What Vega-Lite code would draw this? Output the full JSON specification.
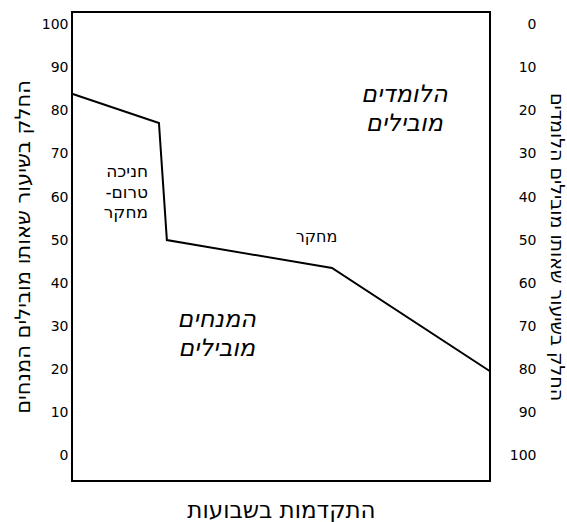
{
  "$schema": "https://vega.github.io/schema/vega-lite/v6.json",
  "autosize": {"type": "none"},
  "width": 418,
  "height": 469,
  "padding": {"left": 72, "top": 12, "right": 77, "bottom": 41},
  "config": {
    "font": "DejaVu Sans",
    "view": {"stroke": "black", "strokeWidth": 2},
    "axis": {"grid": false, "ticks": false, "domain": false, "labelColor": "black", "titleColor": "black", "titleFontWeight": "normal"}
  },
  "datasets": {
    "line": [
      {"week": 0, "share": 84},
      {"week": 20.8, "share": 77.2},
      {"week": 22.7, "share": 50},
      {"week": 62.2, "share": 43.5},
      {"week": 100, "share": 19.5}
    ],
    "notes": [
      {"week": 18.2, "share": 65.8, "label": "חניכה", "kind": "small"},
      {"week": 18.2, "share": 60.9, "label": "-טרום", "kind": "small"},
      {"week": 18.2, "share": 56.3, "label": "מחקר", "kind": "small"},
      {"week": 58.5, "share": 50.7, "label": "מחקר", "kind": "mid"}
    ],
    "big": [
      {"week": 79.5, "share": 83.7, "label": "הלומדים"},
      {"week": 79.5, "share": 76.9, "label": "מובילים"},
      {"week": 34.6, "share": 31.4, "label": "המנחים"},
      {"week": 34.6, "share": 24.6, "label": "מובילים"}
    ]
  },
  "layer": [
    {
      "layer": [
        {
          "data": {"name": "line"},
          "mark": {"type": "line", "color": "black", "strokeWidth": 2},
          "encoding": {
            "x": {"field": "week", "type": "quantitative", "scale": {"domain": [0, 100], "nice": false},
              "axis": {"labels": false, "title": "התקדמות בשבועות", "titleFontSize": 23, "titlePadding": 18}},
            "y": {"field": "share", "type": "quantitative", "scale": {"domain": [-6, 103], "nice": false, "zero": false},
              "axis": {"orient": "left", "values": [0,10,20,30,40,50,60,70,80,90,100], "labelFontSize": 14, "labelPadding": 4,
                "title": "החלק בשיעור שאותו מובילים המנחים", "titleFontSize": 21, "titlePadding": 8}}
          }
        },
        {
          "data": {"name": "notes"},
          "transform": [{"filter": "datum.kind == 'small'"}],
          "mark": {"type": "text", "align": "right", "baseline": "middle", "fontSize": 17, "color": "black"},
          "encoding": {
            "x": {"field": "week", "type": "quantitative"},
            "y": {"field": "share", "type": "quantitative"},
            "text": {"field": "label"}
          }
        },
        {
          "data": {"name": "notes"},
          "transform": [{"filter": "datum.kind == 'mid'"}],
          "mark": {"type": "text", "align": "center", "baseline": "middle", "fontSize": 16, "color": "black"},
          "encoding": {
            "x": {"field": "week", "type": "quantitative"},
            "y": {"field": "share", "type": "quantitative"},
            "text": {"field": "label"}
          }
        },
        {
          "data": {"name": "big"},
          "mark": {"type": "text", "align": "center", "baseline": "middle", "fontSize": 24, "fontStyle": "italic", "color": "black"},
          "encoding": {
            "x": {"field": "week", "type": "quantitative"},
            "y": {"field": "share", "type": "quantitative"},
            "text": {"field": "label"}
          }
        }
      ]
    },
    {
      "data": {"name": "line"},
      "mark": {"type": "point", "opacity": 0},
      "encoding": {
        "x": {"field": "week", "type": "quantitative"},
        "y": {"field": "share", "type": "quantitative", "scale": {"domain": [-3, 106], "nice": false, "zero": false, "reverse": true},
          "axis": {"orient": "right", "values": [0,10,20,30,40,50,60,70,80,90,100], "labelFontSize": 14, "labelAlign": "right", "labelPadding": 46,
            "title": "החלק בשיעור שאותו מובילים הלומדים", "titleFontSize": 19, "titlePadding": 10}}
      }
    }
  ],
  "resolve": {"scale": {"y": "independent"}, "axis": {"y": "independent"}}
}
